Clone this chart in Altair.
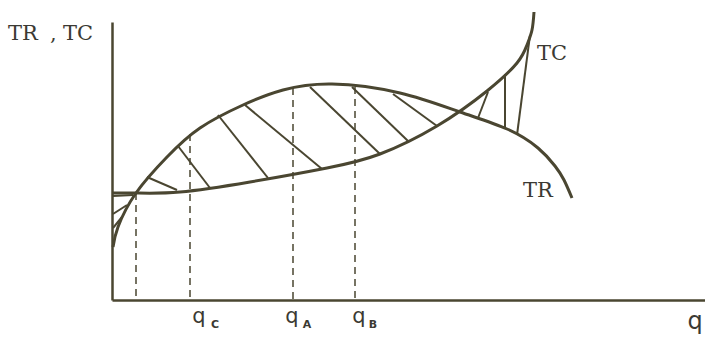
import altair as alt
import pandas as pd

INK = "#4a4631"
TEXT = "#3b3a33"

# Total cost curve TC (output q, money value)
tc_q = [0, 24, 68, 138, 215, 268, 325, 375, 405, 415, 420, 422]
tc_v = [107, 107, 108, 118, 132, 146, 174, 209, 237, 255, 270, 288]

# Total revenue curve TR
tr_q = [1, 6, 24, 55, 88, 131, 171, 220, 288, 348, 395, 426, 443, 452, 460]
tr_v = [53, 73, 107, 143, 172, 195, 210, 216, 207, 188, 171, 152, 134, 120, 102]

# Hatching segments (q, v) -> (q2, v2)
hatch_q = [1, 1, 1, 35, 66, 106, 133, 198, 240, 281, 366, 393, 405]
hatch_v = [104, 86, 72, 123, 154, 185, 195, 213, 213, 206, 182, 171, 165]
hatch_q2 = [21, 15, 10, 65, 98, 156, 210, 268, 296, 325, 376, 393, 418]
hatch_v2 = [105, 95, 83, 110, 112, 122, 131, 146, 159, 174, 208, 226, 265]

# Dashed guides from the curves down to the output axis
guide_q = [24, 78, 181, 243]
guide_top = [107, 166, 212, 213]

# Output labels on the q axis: main letter and subscript
qlab_q = [87, 180, 247, 583]
qlab_text = ["q", "q", "q", "q"]
sub_q = [103, 195, 261]
sub_text = ["C", "A", "B"]

# Serif labels: axis title and curve names
slab_q = [-104, -62, -49, 425, 411]
slab_v = [260, 260, 260, 240, 103]
slab_text = ["TR", ",", "TC", "TC", "TR"]

tc = pd.DataFrame({"q": tc_q, "v": tc_v})
tr = pd.DataFrame({"q": tr_q, "v": tr_v})
hatch = pd.DataFrame({"q": hatch_q, "v": hatch_v, "q2": hatch_q2, "v2": hatch_v2})
guides = pd.DataFrame({"q": guide_q, "v": guide_top, "v0": [0] * len(guide_q)})
qlabs = pd.DataFrame({"q": qlab_q, "v": [-23, -23, -23, -29], "t": qlab_text,
                      "s": [21, 21, 21, 24]})
subs = pd.DataFrame({"q": sub_q, "v": [-28] * 3, "t": sub_text})
slabs = pd.DataFrame({"q": slab_q, "v": slab_v, "t": slab_text})

xs = alt.Scale(domain=[0, 593], nice=False, zero=False)
ys = alt.Scale(domain=[0, 278], nice=False, zero=False)

X = alt.X("q:Q", scale=xs, axis=alt.Axis(domain=True, domainColor=INK, domainWidth=2.5,
                                          ticks=False, labels=False, grid=False, title=None))
Y = alt.Y("v:Q", scale=ys, axis=alt.Axis(domain=True, domainColor=INK, domainWidth=2.5,
                                          ticks=False, labels=False, grid=False, title=None))

tc_line = alt.Chart(tc).mark_line(color=INK, strokeWidth=3, interpolate="natural").encode(
    x=X, y=Y, order="q:Q")
tr_line = alt.Chart(tr).mark_line(color=INK, strokeWidth=3, interpolate="natural").encode(
    x="q:Q", y="v:Q", order="q:Q")

hatch_rules = alt.Chart(hatch).mark_rule(color=INK, strokeWidth=2).encode(
    x="q:Q", y="v:Q", x2="q2:Q", y2="v2:Q")

guide_rules = alt.Chart(guides).mark_rule(color=INK, strokeWidth=1.5, strokeDash=[7, 5]).encode(
    x="q:Q", y="v:Q", y2="v0:Q")

q_text = alt.Chart(qlabs).mark_text(font="DejaVu Sans", color=TEXT, align="center",
                                    baseline="alphabetic").encode(
    x="q:Q", y="v:Q", text="t:N", size=alt.Size("s:Q", scale=None, legend=None))
sub_txt = alt.Chart(subs).mark_text(font="DejaVu Sans", color=TEXT, fontSize=11,
                                    fontWeight="bold", align="center",
                                    baseline="alphabetic").encode(
    x="q:Q", y="v:Q", text="t:N")
serif_txt = alt.Chart(slabs).mark_text(font="DejaVu Serif", color=TEXT, fontSize=21,
                                       align="left", baseline="alphabetic").encode(
    x="q:Q", y="v:Q", text="t:N")

chart = alt.layer(tc_line, tr_line, hatch_rules, guide_rules, q_text, sub_txt, serif_txt).properties(
    width=593, height=278,
    padding={"left": 112, "top": 22, "right": 0, "bottom": 41},
    autosize=alt.AutoSizeParams(type="none"),
    background="white",
).configure_view(stroke=None)

chart.save("out.html", embed_options={"renderer": "svg", "actions": False})
